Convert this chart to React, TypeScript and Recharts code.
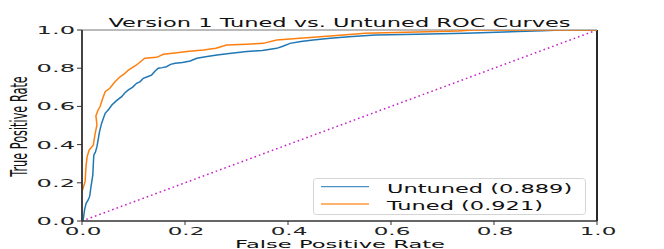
import React from "react";
import { Label, Legend, Line, LineChart, ReferenceLine, XAxis, YAxis } from "recharts";

// ROC curves: false positive rate (x) vs true positive rate (y)
const untunedFpr = [0, 0.002, 0.005, 0.008, 0.012, 0.015, 0.017, 0.021, 0.022, 0.023, 0.026, 0.029, 0.031, 0.034, 0.038, 0.045, 0.052, 0.058, 0.067, 0.077, 0.083, 0.09, 0.098, 0.106, 0.113, 0.119, 0.127, 0.135, 0.142, 0.148, 0.156, 0.164, 0.172, 0.181, 0.195, 0.21, 0.223, 0.24, 0.262, 0.29, 0.32, 0.35, 0.378, 0.39, 0.404, 0.425, 0.449, 0.482, 0.518, 0.57, 0.65, 0.744, 0.82, 0.893, 0.93, 1];
const untunedTpr = [0, 0, 0.06, 0.093, 0.11, 0.13, 0.171, 0.241, 0.3, 0.346, 0.36, 0.389, 0.42, 0.468, 0.511, 0.564, 0.585, 0.607, 0.63, 0.651, 0.67, 0.686, 0.7, 0.721, 0.73, 0.747, 0.755, 0.764, 0.785, 0.8, 0.803, 0.808, 0.82, 0.826, 0.83, 0.838, 0.852, 0.86, 0.869, 0.878, 0.887, 0.893, 0.904, 0.915, 0.93, 0.94, 0.948, 0.957, 0.965, 0.974, 0.978, 0.983, 0.99, 0.996, 1, 1];

const tunedFpr = [0, 0, 0.006, 0.007, 0.008, 0.01, 0.014, 0.018, 0.022, 0.025, 0.029, 0.027, 0.031, 0.035, 0.04, 0.045, 0.054, 0.064, 0.074, 0.082, 0.09, 0.106, 0.114, 0.122, 0.145, 0.158, 0.18, 0.203, 0.236, 0.26, 0.281, 0.32, 0.352, 0.378, 0.423, 0.482, 0.55, 0.65, 0.731, 0.76, 1];
const tunedTpr = [0, 0.153, 0.206, 0.25, 0.293, 0.337, 0.372, 0.385, 0.398, 0.45, 0.503, 0.55, 0.58, 0.598, 0.64, 0.677, 0.695, 0.729, 0.755, 0.77, 0.79, 0.817, 0.835, 0.852, 0.857, 0.873, 0.88, 0.887, 0.895, 0.905, 0.921, 0.925, 0.93, 0.948, 0.957, 0.969, 0.983, 0.99, 0.995, 1, 1];

const chanceFpr = [0, 1];
const chanceTpr = [0, 1];

const axisTicks = [0, 0.2, 0.4, 0.6, 0.8, 1.0];
const seriesNames = ["Untuned (0.889)", "Tuned (0.921)"];
const seriesColors = ["#1f77b4", "#ff7f0e"];
const chartTitle = "Version 1 Tuned vs. Untuned ROC Curves";
const xLabel = "False Positive Rate";
const yLabel = "True Positive Rate";

const toPoints = (xs: number[], ys: number[]) => xs.map((x, i) => ({ fpr: x, tpr: ys[i] }));

const untunedData = toPoints(untunedFpr, untunedTpr);
const tunedData = toPoints(tunedFpr, tunedTpr);
const chanceData = toPoints(chanceFpr, chanceTpr);

const FONT = "'DejaVu Sans', sans-serif";

// the source image is stretched sideways, so text is widened with scale()
const YTick = ({ x, y, payload }: any) => (
  <text
    transform={`translate(${x},${y + 3.9}) scale(2.3,1)`}
    textAnchor="end"
    fontFamily={FONT}
    fontSize={10.5}
    fill="#222"
  >
    {Number(payload.value).toFixed(1)}
  </text>
);

const XTick = ({ x, y, payload }: any) => (
  <text
    transform={`translate(${x + 1},${y + 8}) scale(2.2,1)`}
    textAnchor="middle"
    fontFamily={FONT}
    fontSize={10.5}
    fill="#222"
  >
    {Number(payload.value).toFixed(1)}
  </text>
);

const LegendBox = () => (
  <svg width={273} height={37} style={{ display: "block" }}>
    <rect x={0.5} y={0.5} width={272} height={36} rx={3} fill="#fff" fillOpacity={0.85} stroke="#d4d4d4" />
    {seriesNames.map((name, i) => (
      <g key={name}>
        <line x1={8} x2={56} y1={8.7 + i * 17.3} y2={8.7 + i * 17.3} stroke={seriesColors[i]} strokeWidth={1.3} strokeOpacity={0.8} />
        <text
          transform={`translate(74,${14.5 + i * 17.5}) scale(1.8,1)`}
          fontFamily={FONT}
          fontSize={12.5}
          fill="#111"
        >
          {name}
        </text>
      </g>
    ))}
  </svg>
);

export default function App() {
  return (
    <div style={{ position: "absolute", left: 0, top: 0, background: "#fff" }}>
      <LineChart width={664} height={249} margin={{ top: 30, right: 67, left: 0, bottom: 0 }}>
        <XAxis
          dataKey="fpr"
          type="number"
          domain={[0, 1]}
          ticks={axisTicks}
          height={28}
          tick={<XTick />}
          tickSize={4}
          tickLine={{ stroke: "#333" }}
          axisLine={{ stroke: "#333", strokeWidth: 1.3 }}
          allowDataOverflow
        >
          <Label
            content={() => (
              <g>
                <text
                  transform="translate(340,247.5) scale(2.0,1)"
                  textAnchor="middle"
                  fontFamily={FONT}
                  fontSize={11.3}
                  fill="#111"
                >
                  {xLabel}
                </text>
                <text
                  transform="translate(339.5,27) scale(1.8,1)"
                  textAnchor="middle"
                  fontFamily={FONT}
                  fontSize={12.5}
                  fill="#111"
                >
                  {chartTitle}
                </text>
              </g>
            )}
          />
        </XAxis>
        <YAxis
          type="number"
          domain={[0, 1]}
          ticks={axisTicks}
          width={82}
          tick={<YTick />}
          tickSize={5}
          tickLine={{ stroke: "#333" }}
          axisLine={{ stroke: "#444", strokeWidth: 2 }}
          allowDataOverflow
        >
          <Label
            content={() => (
              <text
                transform="translate(27,126.5) scale(2.1,1) rotate(-90)"
                textAnchor="middle"
                fontFamily={FONT}
                fontSize={11.3}
                fill="#111"
              >
                {yLabel}
              </text>
            )}
          />
        </YAxis>
        {/* top and right spines */}
        <ReferenceLine y={1} stroke="#777" strokeWidth={1} />
        <ReferenceLine x={1} stroke="#111" strokeWidth={1.8} />
        <Line
          data={chanceData}
          dataKey="tpr"
          type="linear"
          stroke="#c81ec8"
          strokeWidth={1.5}
          strokeDasharray="1.6 3"
          dot={false}
          activeDot={false}
          legendType="none"
          isAnimationActive={false}
        />
        <Line
          data={untunedData}
          dataKey="tpr"
          name={seriesNames[0]}
          type="linear"
          stroke={seriesColors[0]}
          strokeWidth={1.5}
          dot={false}
          activeDot={false}
          isAnimationActive={false}
        />
        <Line
          data={tunedData}
          dataKey="tpr"
          name={seriesNames[1]}
          type="linear"
          stroke={seriesColors[1]}
          strokeWidth={1.5}
          dot={false}
          activeDot={false}
          isAnimationActive={false}
        />
        <Legend
          layout="vertical"
          align="center"
          verticalAlign="middle"
          content={() => <LegendBox />}
          wrapperStyle={{ left: 313, top: 178, width: 273, height: 37 }}
        />
      </LineChart>
    </div>
  );
}
